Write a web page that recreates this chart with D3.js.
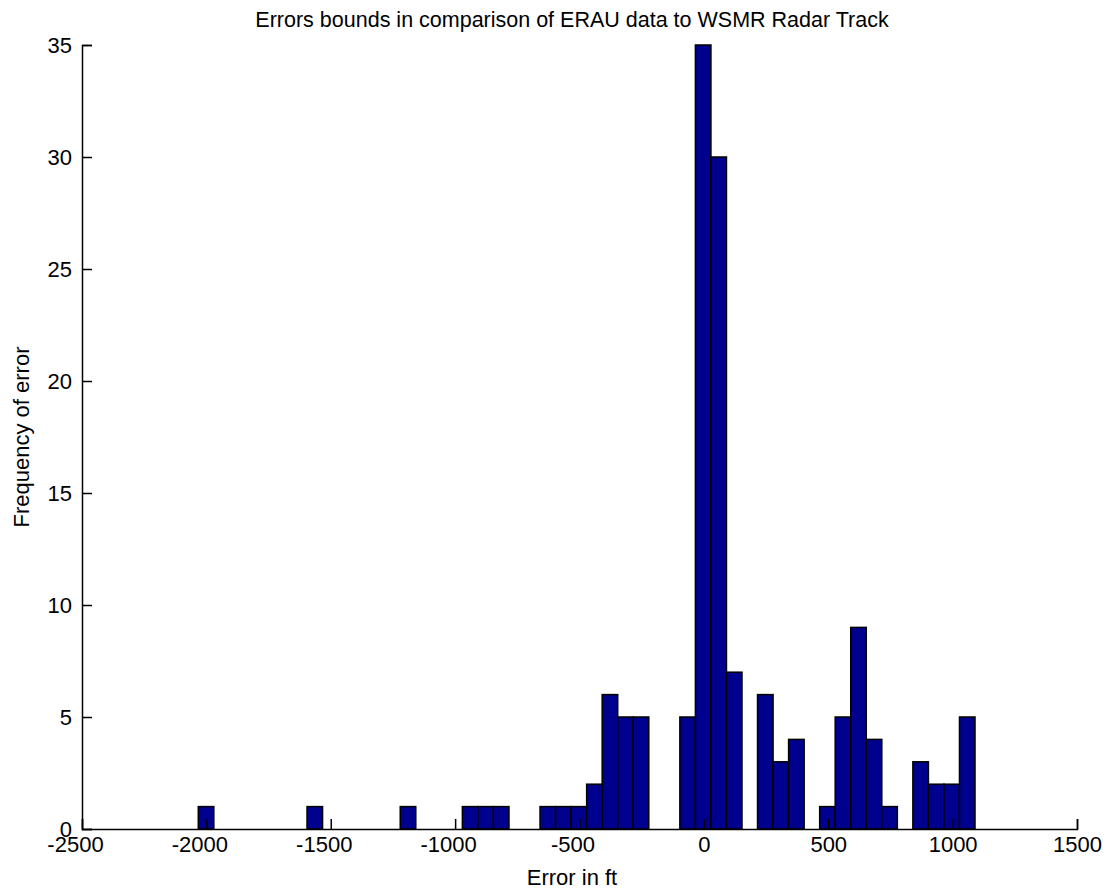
<!DOCTYPE html>
<html>
<head>
<meta charset="utf-8">
<script src="https://cdn.jsdelivr.net/npm/d3@7"></script>
<style>
  html, body { margin: 0; padding: 0; background: #fff; }
  svg { display: block; }
  text { font-family: "Liberation Sans", Arial, sans-serif; fill: #000; }
</style>
</head>
<body>
<svg id="chart" width="1105" height="892"></svg>
<script>
// ---- data ----
const titleText = "Errors bounds in comparison of ERAU data to WSMR Radar Track";
const xLabelText = "Error in ft";
const yLabelText = "Frequency of error";
const histMin = -2032.5;   // left edge of first bin
const histMax = 1090;      // right edge of last bin
const counts = [
  1, 0, 0, 0, 0, 0, 0, 1, 0, 0,
  0, 0, 0, 1, 0, 0, 0, 1, 1, 1,
  0, 0, 1, 1, 1, 2, 6, 5, 5, 0,
  0, 5, 35, 30, 7, 0, 6, 3, 4, 0,
  1, 5, 9, 4, 1, 0, 3, 2, 2, 5
];
const xTicks = [-2500, -2000, -1500, -1000, -500, 0, 500, 1000, 1500];
const yTicks = [0, 5, 10, 15, 20, 25, 30, 35];
const xDomain = [-2500, 1500];
const yDomain = [0, 35];

// ---- layout ----
const mLeft = 82, mRight = 1077, mTop = 45, mBottom = 829;
const svg = d3.select("#chart");
const x = d3.scaleLinear().domain(xDomain).range([mLeft, mRight]);
const y = d3.scaleLinear().domain(yDomain).range([mBottom, mTop]);

const binW = (histMax - histMin) / counts.length;
const bins = counts.map((c, i) => ({ x0: histMin + i * binW, x1: histMin + (i + 1) * binW, c }));

// bars
svg.append("g").selectAll("rect")
  .data(bins.filter(d => d.c > 0))
  .join("rect")
  .attr("x", d => x(d.x0))
  .attr("y", d => y(d.c))
  .attr("width", d => x(d.x1) - x(d.x0))
  .attr("height", d => y(0) - y(d.c))
  .attr("fill", "#00008F")
  .attr("stroke", "#000")
  .attr("stroke-width", 1.5);

const fs = 22;
// x axis
const xAxis = d3.axisBottom(x).tickValues(xTicks).tickSize(-10).tickPadding(7).tickFormat(d3.format("d"));
const gx = svg.append("g").attr("transform", `translate(0,${mBottom})`).call(xAxis);
gx.select(".domain").attr("stroke", "#000").attr("stroke-width", 1.5);
gx.selectAll(".tick line").attr("stroke", "#000").attr("stroke-width", 1.5);
gx.selectAll(".tick text").attr("font-size", fs).attr("font-family", "Liberation Sans, Arial, sans-serif")
  .attr("fill", "#000")
  .attr("dx", d => d < 0 ? -7 : 0)
  .text(d => d < 0 ? "-" + Math.abs(d) : d);

// y axis
const yAxis = d3.axisLeft(y).tickValues(yTicks).tickSize(-10).tickPadding(10);
const gy = svg.append("g").attr("transform", `translate(${mLeft},0)`).call(yAxis);
gy.select(".domain").attr("stroke", "#000").attr("stroke-width", 1.5);
gy.selectAll(".tick line").attr("stroke", "#000").attr("stroke-width", 1.5);
gy.selectAll(".tick text").attr("font-size", fs).attr("font-family", "Liberation Sans, Arial, sans-serif")
  .attr("fill", "#000");

// title
svg.append("text").attr("x", 572).attr("y", 27).attr("text-anchor", "middle")
  .attr("font-size", 21.5).text(titleText);
// x label
svg.append("text").attr("x", 572).attr("y", 885).attr("text-anchor", "middle")
  .attr("font-size", fs).text(xLabelText);
// y label
svg.append("text").attr("transform", `translate(29,${(mTop + mBottom) / 2}) rotate(-90)`)
  .attr("text-anchor", "middle").attr("font-size", fs).text(yLabelText);
</script>
</body>
</html>
